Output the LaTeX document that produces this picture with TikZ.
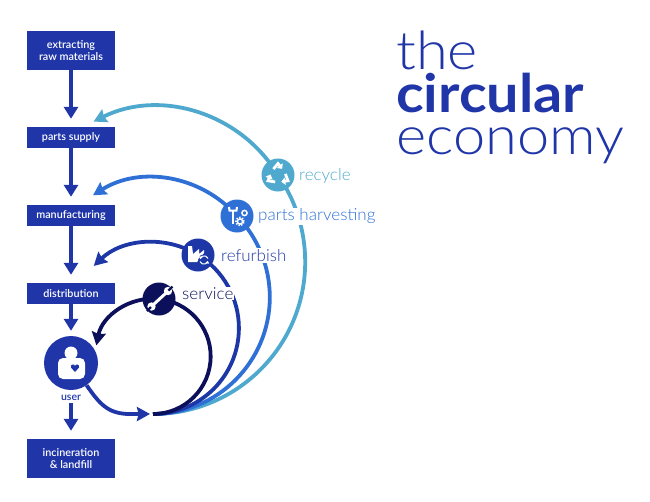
\documentclass[tikz,border=0pt]{standalone}
\usepackage{fontspec}
\setmainfont{Lato}
\newfontfamily\thinfont[FakeStretch=1.03]{Lato Light}
\newfontfamily\boxfont{Lato Semibold}
\newfontfamily\titlefont[FakeStretch=1.09]{Lato Light}
\newfontfamily\titlebold[FakeStretch=1.085]{Lato Bold}
\usepackage{tikz}
\usetikzlibrary{arrows.meta,backgrounds}
\definecolor{boxblue}{HTML}{1F35A8}
\definecolor{recycleteal}{HTML}{4FA9CE}
\definecolor{partsblue}{HTML}{2E70D6}
\definecolor{refurbblue}{HTML}{1D38A6}
\definecolor{servicenavy}{HTML}{0C0F5A}
\tikzstyle{es} = [-{Triangle[length=12pt,width=14pt]}]
\tikzstyle{loopline} = [line width=3.8pt]
\tikzstyle{curved} = [line width=3.8pt,-{Stealth[length=13pt,width=14pt,inset=1.5pt]}]
\tikzstyle{stepbox} = [fill=boxblue,text=white,font=\boxfont\fontsize{10.8}{12.5}\selectfont,align=center,minimum width=88pt,inner sep=0pt]
\tikzstyle{spot} = [circle,minimum size=33pt,inner sep=0pt]
\tikzstyle{tag} = [fill=white,inner sep=1pt,font=\thinfont\fontsize{16.5}{18}\selectfont,anchor=west]
\tikzstyle{title} = [anchor=base west,inner sep=0pt,text=boxblue,font=\titlefont\fontsize{53}{60}\selectfont]

\begin{document}
\begin{tikzpicture}[x=1pt,y=-1pt]
	\useasboundingbox (0,0) rectangle (650,501);
	% boxes on the left
	\node[stepbox,minimum height=39pt] (raw) at (71,50.5) {extracting\\raw materials};
	\node[stepbox,minimum height=21pt] (supply) at (71,137.5) {parts supply};
	\node[stepbox,minimum height=21pt] (manuf) at (71,215.5) {manufacturing};
	\node[stepbox,minimum height=21pt] (distrib) at (71,293.5) {distribution};
	\node[stepbox,minimum height=39pt] (landfill) at (71,458.5) {incineration\\\& landfill};
	\node[spot,fill=boxblue,minimum size=54pt] (user) at (71,363) {};
	\node[text=boxblue,font=\boxfont\fontsize{10.5}{11}\selectfont,inner sep=1pt] (userlabel) at (71,398) {user};
	% the loops meet here
	\coordinate (hub) at (153,414);
	\coordinate (hubin) at (150,414);
	\coordinate (userbend) at (130,414);
	\node[spot,fill=recycleteal] (recycle) at (278,175) {};
	\node[spot,fill=partsblue] (parts) at (237,216) {};
	\node[spot,fill=refurbblue] (refurb) at (198,255) {};
	\node[spot,fill=servicenavy] (service) at (159,299) {};
	% straight arrows
	\draw[es,boxblue,line width=4.5pt,shorten >=8pt] (raw) -- (supply);
	\draw[es,boxblue,line width=4.5pt,shorten >=8pt] (supply) -- (manuf);
	\draw[es,boxblue,line width=4.5pt,shorten >=8pt] (manuf) -- (distrib);
	\draw[es,boxblue,line width=4.5pt,shorten >=5pt] (distrib) -- (user);
	\draw[es,boxblue,line width=4.5pt,shorten >=8pt,shorten <=1pt] (userlabel) -- (landfill);
	% loops
	\begin{scope}[on background layer]
		\draw[loopline,recycleteal] (hub) arc[start angle=-90,end angle=34.8,radius=152.2pt];
		\draw[curved,recycleteal] (recycle.center) arc[start angle=31.3,end angle=116.4,radius=142pt];
		\draw[loopline,partsblue] (hub) arc[start angle=-90,end angle=44,radius=116.8pt];
		\draw[curved,partsblue] (parts.center) arc[start angle=41.3,end angle=122.3,radius=112pt];
		\draw[loopline,refurbblue] (hub) arc[start angle=-90,end angle=58.4,radius=85.9pt];
		\draw[curved,refurbblue] (refurb.center) arc[start angle=58.4,end angle=133.6,radius=85.9pt];
		\draw[loopline,servicenavy] (hub) arc[start angle=-90,end angle=84,radius=57.65pt];
		\draw[curved,servicenavy] (service.center) arc[start angle=84,end angle=169,radius=57.65pt];
	\end{scope}
	\draw[curved,boxblue] (user) to[out=-55,in=180,looseness=1.1] (userbend) -- (hubin);
	% labels
	\node[tag,text=recycleteal] (recyclelabel) at (298,176) {recycle};
	\node[tag,text=partsblue] (partslabel) at (257,216.5) {parts harvesting};
	\node[tag,text=refurbblue] (refurblabel) at (220,255.5) {refurbish};
	\node[tag,text=servicenavy] (servicelabel) at (181,293.5) {service};
	% person
	\fill[white] (71,353) circle (6.5pt);
	\fill[white,rounded corners=5pt] (58,379) -- (58,358) -- (85,358) -- (85,379) -- cycle;
	\fill[boxblue] (75,372) -- (71,367.5) .. controls (70,364) and (74.5,363.5) .. (75,366) .. controls (75.5,363.5) and (80,364) .. (79,367.5) -- cycle;
	% wrench
	\draw[white,line width=3pt] (153,305) -- (166,293);
	\fill[white] (168,291) circle (4.2pt) (151.5,306.5) circle (4.2pt);
	\draw[servicenavy,line width=2.2pt] (168.5,290.5) -- (172.5,286.5) (151,307) -- (147,311);
	% recycling arrows
	\foreach \a in {90,210,330}
		\draw[white,line width=2.8pt,-{Triangle[length=4pt,width=7.5pt]}] ([shift={(278,175)}]\a+38:7.5pt) -- ([shift={(278,175)}]\a:11.5pt) -- ([shift={(278,175)}]\a-34:7.5pt);
	% tool and gears
	\draw[white,line width=2.4pt] (233,211) -- (233,224);
	\draw[white,line width=2pt] (229,207) -- (229.5,210.5) -- (236.5,210.5) -- (237,207);
	\draw[white,line width=1.5pt] (244.5,213) circle (2.6pt);
	\draw[white,line width=1.4pt] (240,221.5) circle (2.6pt);
	\draw[white,line width=1.6pt,dash pattern=on 1.4pt off 1.4pt] (240,221.5) circle (4pt);
	% factory
	\fill[white] (188,262) -- (188,246) -- (192,246) -- (193,254) -- (199,249) -- (199,254) -- (204,250) -- (204,253) -- (197,262) -- cycle;
	\draw[refurbblue,line width=1.6pt,fill=refurbblue] (204,260) circle (5pt);
	\draw[white,line width=1pt,-{Triangle[length=2.5pt,width=3.5pt]}] (208,258.5) arc[start angle=20,end angle=170,radius=4pt];
	\draw[white,line width=1pt,-{Triangle[length=2.5pt,width=3.5pt]}] (200,261.5) arc[start angle=200,end angle=350,radius=4pt];
	% title
	\node[title] (the) at (396,69) {the};
	\node[title,font=\titlebold\fontsize{53}{60}\selectfont] (circular) at (396,112) {circular};
	\node[title] (economy) at (396,154) {economy};
\end{tikzpicture}
\end{document}
